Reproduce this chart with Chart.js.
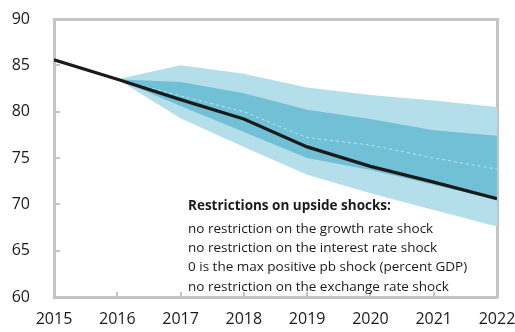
<!DOCTYPE html>
<html>
<head>
<meta charset="utf-8">
<script src="https://cdn.jsdelivr.net/npm/chart.js@4/dist/chart.umd.min.js"></script>
<style>
  html, body { margin: 0; padding: 0; background: #fff; }
  #wrap { width: 515px; height: 332px; position: relative; }
</style>
</head>
<body>
<div id="wrap"><canvas id="chart"></canvas></div>
<script>
const years = [2015, 2016, 2017, 2018, 2019, 2020, 2021, 2022];
const fanYears = [2016, 2017, 2018, 2019, 2020, 2021, 2022];
const baseline = [85.6, 83.5, 81.3, 79.2, 76.2, 74.1, 72.4, 70.6];
const outerUpper = [83.5, 85.0, 84.1, 82.6, 81.8, 81.2, 80.5];
const outerLower = [83.5, 79.3, 76.2, 73.2, 71.2, 69.4, 67.6];
const innerUpper = [83.5, 83.2, 82.0, 80.2, 79.2, 78.0, 77.4];
const innerLower = [83.5, 80.6, 77.8, 75.0, 73.7, 72.1, 70.5];
const median = [83.5, 81.7, 80.0, 77.2, 76.4, 75.0, 73.8];
const yTicks = [60, 65, 70, 75, 80, 85, 90];
const noteTitle = "Restrictions on upside shocks:";
const noteLines = [
  "no restriction on the growth rate shock",
  "no restriction on the interest rate shock",
  "0 is the max positive pb shock (percent GDP)",
  "no restriction on the exchange rate shock",
];

const LIGHT = "rgb(179,222,234)";
const DARK = "rgb(114,192,213)";
const FRAME = "#c4c4c4";

const pts = (xs, ys) => xs.map((x, i) => ({ x, y: ys[i] }));

// inward ticks and the note text
const extras = {
  id: "extras",
  afterDraw(chart) {
    const { ctx, chartArea: a, scales } = chart;
    ctx.save();
    ctx.setLineDash([]);
    ctx.strokeStyle = FRAME;
    ctx.lineWidth = 2;
    ctx.beginPath();
    years.slice(1, -1).forEach((yr) => {
      const px = Math.round(scales.x.getPixelForValue(yr));
      ctx.moveTo(px, a.bottom);
      ctx.lineTo(px, a.bottom - 5);
    });
    yTicks.slice(1, -1).forEach((v) => {
      const py = Math.round(scales.y.getPixelForValue(v));
      ctx.moveTo(a.left, py);
      ctx.lineTo(a.left + 6, py);
    });
    ctx.stroke();

    ctx.fillStyle = "#1a1a1a";
    ctx.textBaseline = "middle";
    ctx.font = "bold 13.5px 'Open Sans'";
    ctx.fillText(noteTitle, 188, 206);
    ctx.font = "13.5px 'Open Sans'";
    noteLines.forEach((t, i) => ctx.fillText(t, 188, 229 + i * 19.3));
    ctx.restore();
  },
};

const edge = { display: true, color: FRAME, width: 3 };
const hiddenAxis = (pos, min, max) => ({
  type: "linear", position: pos, min, max,
  grid: { display: false },
  border: edge,
  ticks: { display: false },
  afterFit: (s) => { if (s.isHorizontal()) s.height = 0; else s.width = 0; },
});

new Chart(document.getElementById("chart"), {
  type: "line",
  data: {
    datasets: [
      { data: pts(years, baseline), borderColor: "#1a1a1a", borderWidth: 3.2, pointRadius: 0, fill: false, order: 0 },
      { data: pts(fanYears, median), borderColor: "rgba(255,255,255,0.55)", borderWidth: 1, borderDash: [3, 3], pointRadius: 0, fill: false, order: 1 },
      { data: pts(fanYears, innerUpper), borderWidth: 0, pointRadius: 0, backgroundColor: DARK, fill: "+1", order: 2 },
      { data: pts(fanYears, innerLower), borderWidth: 0, pointRadius: 0, fill: false, order: 3 },
      { data: pts(fanYears, outerUpper), borderWidth: 0, pointRadius: 0, backgroundColor: LIGHT, fill: "+1", order: 4 },
      { data: pts(fanYears, outerLower), borderWidth: 0, pointRadius: 0, fill: false, order: 5 },
    ],
  },
  options: {
    responsive: true,
    maintainAspectRatio: false,
    animation: false,
    layout: { padding: { top: 19, right: 18, left: 0, bottom: 0 } },
    plugins: { legend: { display: false }, tooltip: { enabled: false } },
    scales: {
      x: {
        type: "linear",
        min: 2015, max: 2022,
        grid: { display: false },
        border: edge,
        ticks: {
          stepSize: 1,
          color: "#1a1a1a",
          font: { family: "Open Sans", size: 16 },
          padding: 5,
          callback: (v) => String(v),
          maxRotation: 0,
        },
        afterFit: (s) => { s.height = 35; s.paddingLeft = 0; s.paddingRight = 0; },
      },
      y: {
        min: 60, max: 90,
        grid: { display: false },
        border: edge,
        ticks: {
          stepSize: 5,
          color: "#1a1a1a",
          font: { family: "Open Sans", size: 16 },
          padding: 16,
        },
        afterFit: (s) => { s.width = 54; s.paddingTop = 0; s.paddingBottom = 0; },
      },
      xTop: hiddenAxis("top", 2015, 2022),
      yRight: hiddenAxis("right", 60, 90),
    },
  },
  plugins: [extras],
});
</script>
</body>
</html>
